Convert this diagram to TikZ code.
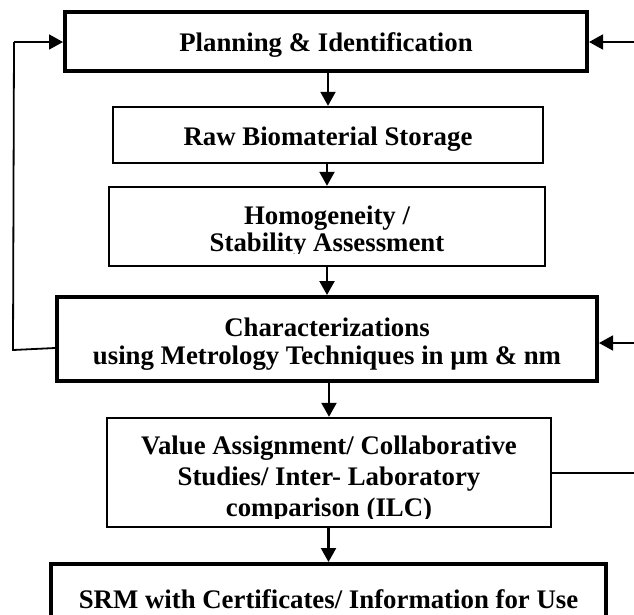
\documentclass[tikz,border=0pt]{standalone}
\usepackage{fontspec}
\setmainfont{Liberation Serif}
\usetikzlibrary{arrows.meta}
\begin{document}
\begin{tikzpicture}[x=1pt,y=-1pt,
  box/.style={draw, line width=2.4pt, inner sep=0pt},
  heavybox/.style={box, line width=4pt},
  label/.style={font=\bfseries\fontsize{26.8}{28}\selectfont, align=center, inner sep=0pt},
  flow/.style={line width=2.2pt, -{Triangle[length=14pt,width=15pt]}},
  link/.style={line width=1.8pt},
  back/.style={line width=1.8pt, -{Triangle[length=14pt,width=15pt]}}]
\useasboundingbox (0,0) rectangle (634,614);

% process boxes
\node[heavybox, minimum width=522pt, minimum height=59pt] (b1) at (326,41.5) {};
\node[box, minimum width=430pt, minimum height=56pt] (b2) at (328,135) {};
\node[box, minimum width=436pt, minimum height=79pt] (b3) at (327,226.5) {};
\node[heavybox, minimum width=540pt, minimum height=84pt] (b4) at (327,339) {};
\node[box, minimum width=444pt, minimum height=109pt] (b5) at (329,472.5) {};
\node[heavybox, minimum width=555pt, minimum height=76pt] (b6) at (328.5,602) {};

% box texts
\node[label] (t1) at (326,45) {Planning \& Identification};
\node[label] (t2) at (328,139) {Raw Biomaterial Storage};
\begin{scope}
  \clip (100,190) rectangle (560,253);
  \node[label, font=\bfseries\fontsize{26.8}{27}\selectfont] (t3) at (327,232) {Homogeneity /\\Stability Assessment};
\end{scope}
\node[label] (t4) at (327,344) {Characterizations\\using Metrology Techniques in µm \& nm};
\begin{scope}
  \clip (100,422) rectangle (560,518);
  \node[label, font=\bfseries\fontsize{26.8}{31}\selectfont] (t5) at (329,479) {Value Assignment/ Collaborative\\Studies/ Inter- Laboratory\\comparison (ILC)};
\end{scope}
\node[label] (t6) at (328.5,599) {SRM with Certificates/ Information for Use};

% main flow
\draw[flow] (b1.south -| b2.north) -- (b2.north);
\draw[flow] (b2.south -| b3.north) -- (b3.north);
\draw[flow] (b3.south -| b4.north) -- (b4.north);
\draw[flow] (b4.south -| b5.north) -- (b5.north);
\draw[flow] (b5.south -| b6.north) -- (b6.north);

% feedback to planning on the left
\coordinate (l1) at (13,350);
\coordinate (l2) at (14,42);
\draw[link] (b4.west |- 0,348) -- (l1) -- (l2);
\draw[back] (l2) -- (b1.west |- l2);

% inputs on the right
\coordinate (r1) at (634,42);
\coordinate (r2) at (634,343);
\coordinate (r3) at (634,473);
\draw[back] (r1) -- (b1.east |- r1);
\draw[back] (r2) -- (b4.east |- r2);
\draw[link] (b5.east |- r3) -- (r3);
\end{tikzpicture}
\end{document}
